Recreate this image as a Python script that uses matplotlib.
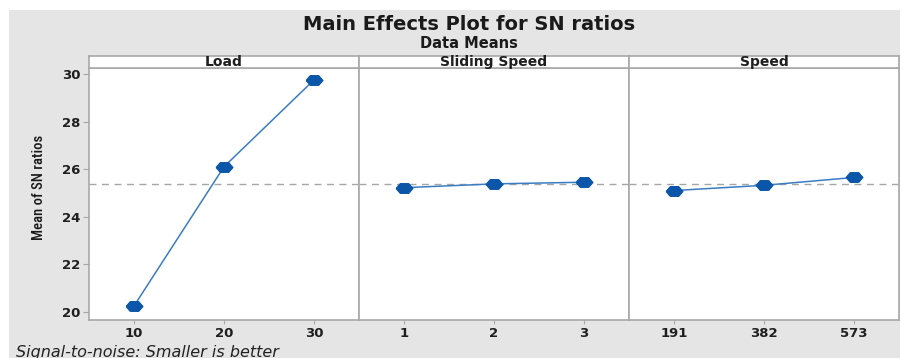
import matplotlib.pyplot as plt
import numpy as np
from matplotlib.patches import Rectangle
from matplotlib.path import Path

# values
factors = ['Load', 'Sliding Speed', 'Speed']
levels = [['10', '20', '30'], ['1', '2', '3'], ['191', '382', '573']]
load_sn = [20.25, 26.1, 29.75]
sliding_sn = [25.22, 25.38, 25.45]
speed_sn = [25.1, 25.32, 25.65]
grand_mean = 25.36
y_ticks = [20, 22, 24, 26, 28, 30]

series = [load_sn, sliding_sn, speed_sn]

W, H = 903, 358
fig = plt.figure(figsize=(W / 100, H / 100), dpi=100)
fig.patch.set_facecolor('white')

# gray minitab-like background
bg = Rectangle((9 / W, 0), 891 / W, 1 - 10 / H, transform=fig.transFigure,
               facecolor='#e5e5e5', edgecolor='none', zorder=-10)
fig.patches.append(bg)

# squashed hexagon marker
mk = Path([(-1.4, 0), (-0.7, 0.8), (0.7, 0.8), (1.4, 0), (0.7, -0.8),
           (-0.7, -0.8), (-1.4, 0)])

left, right = 89, 899
pw = (right - left) / 3
bot, top, strip_top = 320, 68, 56
frame_col = '#a8a8a8'
txt_col = '#1f1f1f'

for i in range(3):
    x0 = left + i * pw
    ax = fig.add_axes([x0 / W, 1 - bot / H, pw / W, (bot - top) / H])
    ax.set_facecolor('white')
    xs = np.arange(1, 4)
    ax.axhline(grand_mean, color='#a6a6a6', linestyle=(0, (5, 4)), linewidth=1, zorder=1)
    ax.plot(xs, series[i], color='#3a7cc4', linewidth=1.1, zorder=2)
    ax.plot(xs, series[i], linestyle='none', marker=mk, markersize=12,
            color='#0b56a8', zorder=3)
    ax.set_xlim(0.5, 3.5)
    ax.set_ylim(19.66, 30.25)
    ax.set_xticks(xs)
    ax.set_xticklabels(levels[i], fontsize=9.5, fontweight='bold', color=txt_col)
    ax.tick_params(axis='x', length=3, color=frame_col, pad=2)
    if i == 0:
        ax.set_yticks(y_ticks)
        ax.set_yticklabels([str(t) for t in y_ticks], fontsize=9.5, fontweight='bold',
                           color=txt_col)
        ax.tick_params(axis='y', length=4, color=frame_col, pad=2)
    else:
        ax.set_yticks([])
    for s in ax.spines.values():
        s.set_color(frame_col)
        s.set_linewidth(1.2)

    # strip on top
    sax = fig.add_axes([x0 / W, 1 - top / H, pw / W, (top - strip_top) / H])
    sax.set_facecolor('white')
    sax.set_xticks([])
    sax.set_yticks([])
    for s in sax.spines.values():
        s.set_color(frame_col)
        s.set_linewidth(1.2)
    sax.text(0.5, 0.5, factors[i], ha='center', va='center', fontsize=10,
             fontweight='bold', color=txt_col, transform=sax.transAxes)

fig.text(469 / W, 1 - 24 / H, 'Main Effects Plot for SN ratios', ha='center',
         va='center', fontsize=14, fontweight='bold', color='#1a1a1a',
         family=['DejaVu Sans'])
fig.text(469 / W, 1 - 44 / H, 'Data Means', ha='center', va='center', fontsize=10.5,
         fontweight='bold', color='#1a1a1a', family=['DejaVu Sans'])
fig.text(39 / W, 1 - 187 / H, 'Mean of SN ratios', ha='center', va='center',
         rotation=90, fontsize=10.5, fontweight='medium', color='#1a1a1a',
         family=['Roboto Condensed', 'Liberation Sans Narrow', 'Roboto'])
fig.text(16 / W, 1 - 352 / H, 'Signal-to-noise: Smaller is better', ha='left',
         va='center', fontsize=11.5, style='italic', color='#222222',
         family=['DejaVu Sans'])

fig.savefig('out.png', dpi=100)
